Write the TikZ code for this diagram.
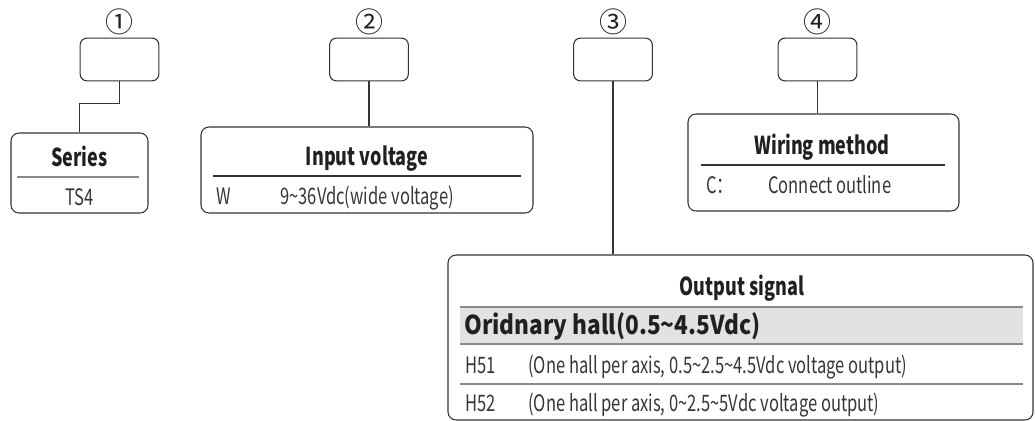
\documentclass[tikz,border=0pt]{standalone}
\usepackage{fontspec}
\setmainfont{Noto Sans CJK SC}[FakeStretch=0.73]
\newfontfamily\widefont{Noto Sans CJK SC}[FakeStretch=0.87]
\newfontfamily\numfont{Noto Sans CJK SC}
\usepackage{xcolor}
\usepackage{tikz}
\usetikzlibrary{positioning,calc}
\definecolor{linedark}{HTML}{333333}
\definecolor{textdark}{HTML}{231F20}
\definecolor{bandgray}{HTML}{E2E2E2}
\definecolor{rulegray}{HTML}{8A8A8A}
\tikzset{
  smallbox/.style={
    draw=linedark,
    rounded corners=5pt,
    line width=0.8pt,
    minimum width=59pt,
    minimum height=32pt,
    inner sep=0pt
  },
  infobox/.style={
    draw=linedark,
    rounded corners=6pt,
    line width=0.8pt,
    inner sep=0pt
  },
  numtxt/.style={
    text=textdark,
    font=\numfont\fontsize{21}{21}\selectfont,
    inner sep=0pt
  },
  headtxt/.style={
    text=textdark,
    font=\bfseries\fontsize{18.5}{20}\selectfont,
    anchor=base,
    inner sep=0pt
  },
  rowtxt/.style={
    text=textdark!90,
    font=\fontsize{17}{19}\selectfont,
    anchor=base west,
    inner sep=0pt
  },
  bandtxt/.style={
    text=textdark,
    font=\widefont\bfseries\fontsize{19.5}{21}\selectfont,
    anchor=base west,
    inner sep=0pt
  },
  conn/.style={
    draw=linedark,
    line width=0.8pt
  },
  inrule/.style={
    draw=rulegray,
    line width=0.8pt
  }
}
\begin{document}
\begin{tikzpicture}[x=0.75pt,y=-0.75pt]
  \useasboundingbox (0,0) rectangle (1035,421);
  % code boxes with their numbers
  \foreach \n/\x/\c in {1/119.5/①,2/369/②,3/613/③,4/817.5/④}{
    \node[smallbox] (b\n) at (\x,59.5) {};
    \node[numtxt] (num\n) at (\x,22) {\c};
  }
  % series
  \node[infobox, minimum width=102.75pt, minimum height=60pt] (ser) at (79.5,173) {};
  \node[headtxt] (sertitle) at (79.5,166) {Series};
  \draw[inrule] (17,177) -- (139,177);
  \node[rowtxt, anchor=base] (serrow) at (79.5,205) {TS4};
  % input voltage
  \node[infobox, minimum width=249pt, minimum height=64.5pt] (inp) at (367,170) {};
  \node[headtxt] (inptitle) at (367,165) {Input voltage};
  \draw[inrule, draw=linedark] (213,176) -- (521,176);
  \node[rowtxt] (inpcode) at (216,204) {W};
  \node[rowtxt] (inpdesc) at (280,204) {9\char"7E 36Vdc(wide voltage)};
  % wiring method
  \node[infobox, minimum width=203.25pt, minimum height=72.75pt] (wir) at (823.5,162.5) {};
  \node[headtxt] (wirtitle) at (822,154) {Wiring method};
  \draw[inrule, draw=linedark] (701,165) -- (945,165);
  \node[rowtxt] (wircode) at (706,193) {C：};
  \node[rowtxt] (wirdesc) at (768,193) {Connect outline};
  % output signal
  \node[infobox, minimum width=438.75pt, minimum height=123.75pt] (out) at (740.5,337.5) {};
  \node[headtxt] (outtitle) at (742,295) {Output signal};
  \fill[bandgray] (460,307) rectangle (1023,344);
  \draw[inrule] (460,307) -- (1023,307);
  \draw[inrule] (460,344) -- (1023,344);
  \node[bandtxt] (outband) at (464,334) {Oridnary hall(0.5\char"7E 4.5Vdc)};
  \node[rowtxt] (outcodea) at (465,373) {H51};
  \node[rowtxt] (outdesca) at (528,373) {(One hall per axis, 0.5\char"7E 2.5\char"7E 4.5Vdc voltage output)};
  \draw[inrule] (460,384) -- (1023,384);
  \node[rowtxt] (outcodeb) at (465,411) {H52};
  \node[rowtxt] (outdescb) at (528,411) {(One hall per axis, 0\char"7E 2.5\char"7E 5Vdc voltage output)};
  % connectors
  \draw[conn] (b1.south) -- ++(0,22) -| (ser.north);
  \draw[conn] (b2.south) -- (b2.south |- inp.north);
  \draw[conn] (b3.south) -- (b3.south |- out.north);
  \draw[conn] (b4.south) -- (b4.south |- wir.north);
\end{tikzpicture}
\end{document}
